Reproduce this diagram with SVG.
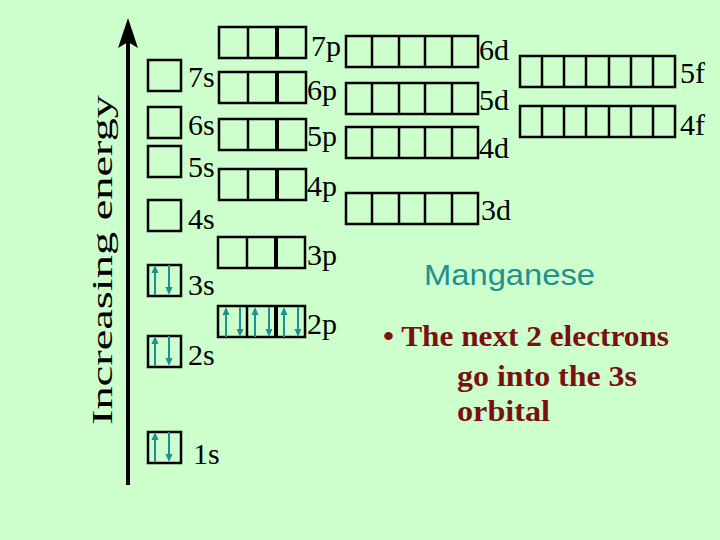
<svg xmlns="http://www.w3.org/2000/svg" width="720" height="540" viewBox="0 0 720 540">
<defs>
<style>
.b{fill:none;stroke:#000;stroke-width:2.5}
.t{font-family:"Liberation Serif",serif;font-size:30px;fill:#000}
.e{stroke:#1f8f8f;stroke-width:2;fill:none}
.h{fill:#1f8f8f}
</style>
<g id="up"><line class="e" x1="0" y1="6" x2="0" y2="30"/><polygon class="h" points="-3.5,8 3.5,8 0,0"/></g>
<g id="dn"><line class="e" x1="0" y1="0" x2="0" y2="24"/><polygon class="h" points="-3.5,22 3.5,22 0,30"/></g>
<g id="pair"><use href="#up" x="7"/><use href="#dn" x="21"/></g>
<g id="p3"><rect class="b" x="0" y="0" width="87" height="31"/><line class="b" x1="29" y1="0" x2="29" y2="31"/><line stroke="#000" stroke-width="4" x1="58" y1="0" x2="58" y2="31"/></g>
<g id="d5"><rect class="b" x="0" y="0" width="132" height="31"/><line class="b" x1="26" y1="0" x2="26" y2="31"/><line class="b" x1="53" y1="0" x2="53" y2="31"/><line class="b" x1="79" y1="0" x2="79" y2="31"/><line class="b" x1="106" y1="0" x2="106" y2="31"/></g>
<g id="f7"><rect class="b" x="0" y="0" width="155" height="31"/><line class="b" x1="22" y1="0" x2="22" y2="31"/><line class="b" x1="44" y1="0" x2="44" y2="31"/><line class="b" x1="66" y1="0" x2="66" y2="31"/><line class="b" x1="89" y1="0" x2="89" y2="31"/><line class="b" x1="111" y1="0" x2="111" y2="31"/><line class="b" x1="133" y1="0" x2="133" y2="31"/></g>
</defs>
<rect width="720" height="540" fill="#ccffcc"/>
<g id="axis">
<line x1="128" y1="485" x2="128" y2="40" stroke="#000" stroke-width="4"/>
<polygon points="118,48 128,18 138,48 128,42" fill="#000"/>
<text class="t" font-size="28" transform="translate(112,260) rotate(-90)" text-anchor="middle" textLength="330" lengthAdjust="spacingAndGlyphs">Increasing energy</text>
</g>
<g id="s-orbitals">
<rect class="b" x="148" y="60" width="33" height="31"/><text class="t" x="188" y="87">7s</text>
<rect class="b" x="148" y="107" width="33" height="31"/><text class="t" x="188" y="135">6s</text>
<rect class="b" x="148" y="146" width="33" height="31"/><text class="t" x="188" y="177">5s</text>
<rect class="b" x="148" y="200" width="33" height="31"/><text class="t" x="188" y="229">4s</text>
<rect class="b" x="148" y="265" width="33" height="31"/><use href="#pair" x="148" y="265"/><text class="t" x="188" y="295">3s</text>
<rect class="b" x="148" y="336" width="33" height="31"/><use href="#pair" x="148" y="336"/><text class="t" x="188" y="365">2s</text>
<rect class="b" x="148" y="432" width="33" height="31"/><use href="#pair" x="148" y="432"/><text class="t" x="193" y="464">1s</text>
</g>
<g id="p-orbitals">
<use href="#p3" x="219" y="27"/><text class="t" x="311" y="56">7p</text>
<use href="#p3" x="219" y="72"/><text class="t" x="307" y="100">6p</text>
<use href="#p3" x="219" y="119"/><text class="t" x="307" y="146">5p</text>
<use href="#p3" x="219" y="169"/><text class="t" x="307" y="196">4p</text>
<use href="#p3" x="218" y="237"/><text class="t" x="307" y="265">3p</text>
<use href="#p3" x="218" y="306"/><use href="#pair" x="219" y="307"/><use href="#pair" x="248" y="307"/><use href="#pair" x="277" y="307"/><text class="t" x="307" y="334">2p</text>
</g>
<g id="d-orbitals">
<use href="#d5" x="346" y="36"/><text class="t" x="479" y="60">6d</text>
<use href="#d5" x="346" y="83"/><text class="t" x="479" y="110">5d</text>
<use href="#d5" x="346" y="127"/><text class="t" x="479" y="158">4d</text>
<use href="#d5" x="346" y="193"/><text class="t" x="481" y="220">3d</text>
</g>
<g id="f-orbitals">
<use href="#f7" x="520" y="56"/><text class="t" x="680" y="83">5f</text>
<use href="#f7" x="520" y="106"/><text class="t" x="680" y="135">4f</text>
</g>
<g id="caption">
<text x="424" y="285" font-family="Liberation Sans,sans-serif" font-size="29" fill="#1f8f8f" textLength="171" lengthAdjust="spacingAndGlyphs">Manganese</text>
<g font-family="Liberation Serif,serif" font-size="29" font-weight="bold" fill="#7a1010">
<text x="383" y="346" textLength="286" lengthAdjust="spacingAndGlyphs">• The next 2 electrons</text>
<text x="457" y="386" textLength="180" lengthAdjust="spacingAndGlyphs">go into the 3s</text>
<text x="457" y="421" textLength="93" lengthAdjust="spacingAndGlyphs">orbital</text>
</g>
</g>
</svg>
